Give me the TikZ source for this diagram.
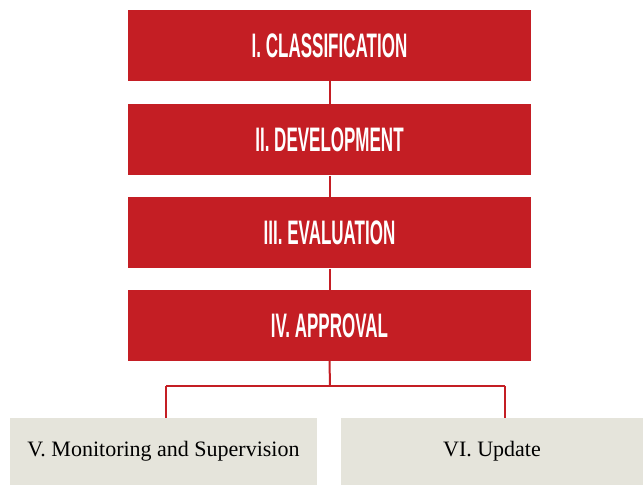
\documentclass[tikz,border=0pt]{standalone}
\usepackage{fontspec}
\setmainfont{Liberation Serif}
\newfontfamily\headfont{Liberation Sans}
\usetikzlibrary{positioning}
\definecolor{stepred}{HTML}{C41E24}
\definecolor{stepgray}{HTML}{E5E4DB}

\begin{document}
\begin{tikzpicture}
      [x = 1pt, y = -1pt,
      stage/.style= {
         fill = stepred,
         text = white,
         inner sep = 0pt,
         minimum width = 403pt,
         minimum height = 71pt,
         font = \headfont\bfseries\fontsize{34}{34}\selectfont
      },
      leaf/.style= {
         fill = stepgray,
         text = black,
         inner sep = 0pt,
         minimum height = 67pt,
         font = \fontsize{22}{22}\selectfont
      },
      link/.style= {stepred, line width = 2pt}]

      \useasboundingbox (0, 0) rectangle (643, 486);

      \node[stage] (classif) at (329.5, 45.5) {\scalebox{0.5}[1]{I. CLASSIFICATION}};
      \node[stage] (devel) at (329.5, 140) {\scalebox{0.5}[1]{II. DEVELOPMENT}};
      \node[stage] (evalu) at (329.5, 233) {\scalebox{0.5}[1]{III. EVALUATION}};
      \node[stage] (approv) at (329.5, 325.5) {\scalebox{0.5}[1]{IV. APPROVAL}};

      \node[leaf, minimum width = 307pt] (monit) at (163.5, 451.5) {V. Monitoring and Supervision};
      \node[leaf, minimum width = 302pt] (update) at (492, 451.5) {VI. Update};

      \draw[link] (classif) -- (devel);
      \draw[link] (devel) -- (evalu);
      \draw[link] (evalu) -- (approv);

      % fork below the approval box
      \coordinate (fork) at (330, 386);
      \coordinate (leftdrop) at (166, 386);
      \coordinate (rightdrop) at (505, 386);
      \draw[link] (approv.south) -- (fork);
      \draw[link] (leftdrop) -- (rightdrop);
      \draw[link] (leftdrop) -- (leftdrop |- monit.north);
      \draw[link] (rightdrop) -- (rightdrop |- update.north);

   \end{tikzpicture}
\end{document}
